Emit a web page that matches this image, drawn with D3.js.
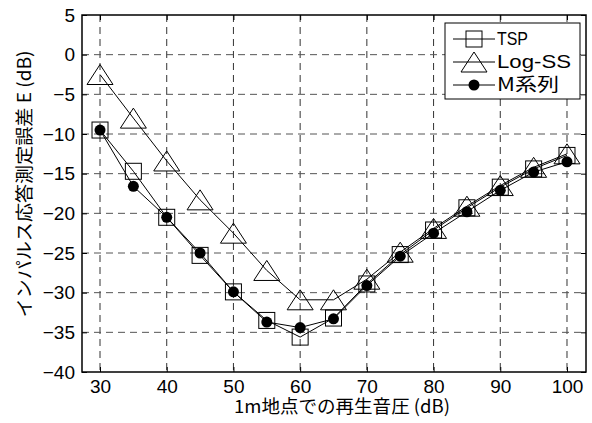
<!DOCTYPE html>
<html>
<head>
<meta charset="utf-8">
<script src="https://cdn.jsdelivr.net/npm/d3@7"></script>
<style>
  body { margin: 0; background: #fff; overflow: hidden; }
  svg { display: block; }
  text { font-family: "Liberation Sans", Arial, sans-serif; fill: #000; }
  .jp { font-family: "Noto Sans CJK JP", sans-serif; }
</style>
</head>
<body>
<div id="chart"></div>
<script>
const levels = [30, 35, 40, 45, 50, 55, 60, 65, 70, 75, 80, 85, 90, 95, 100];
const tspErr = [-9.5, -14.7, -20.5, -25.3, -29.9, -33.5, -35.6, -33.2, -28.9, -25.2, -22.1, -19.3, -16.7, -14.4, -12.7];
const logssErr = [-2.5, -8.0, -13.4, -18.3, -22.5, -27.2, -30.9, -30.9, -28.3, -24.9, -21.9, -19.1, -16.5, -14.2, -12.5];
const mseqErr = [-9.5, -16.6, -20.5, -25.0, -29.9, -33.7, -34.4, -33.3, -29.1, -25.4, -22.5, -19.8, -17.1, -14.8, -13.5];
const xTicks = [30, 40, 50, 60, 70, 80, 90, 100];
const yTicks = [5, 0, -5, -10, -15, -20, -25, -30, -35, -40];
const seriesNames = ["TSP", "Log-SS", "M系列"];

const width = 592, height = 423;
const margin = { top: 15, right: 6, bottom: 51, left: 82 };
const innerWidth = width - margin.left - margin.right;
const innerHeight = height - margin.top - margin.bottom;

const svg = d3.select("#chart").append("svg")
  .attr("width", width)
  .attr("height", height)
  .attr("viewBox", "0 0 " + width + " " + height);

const g = svg.append("g")
  .attr("transform", "translate(" + margin.left + "," + margin.top + ")");

const x = d3.scaleLinear().domain([27.3, 102.85]).range([0, innerWidth]);
const y = d3.scaleLinear().domain([-40, 5]).range([innerHeight, 0]);

// grid
g.selectAll(".vgrid").data(xTicks).enter().append("line")
  .attr("x1", d => x(d)).attr("x2", d => x(d))
  .attr("y1", 0).attr("y2", innerHeight)
  .attr("stroke", "#333").attr("stroke-width", 1)
  .attr("stroke-dasharray", "7,5");
g.selectAll(".hgrid").data(yTicks.filter(d => d > -40 && d < 5)).enter().append("line")
  .attr("y1", d => y(d)).attr("y2", d => y(d))
  .attr("x1", 0).attr("x2", innerWidth)
  .attr("stroke", "#555").attr("stroke-width", 1)
  .attr("stroke-dasharray", "7,5");

// axes
g.append("g")
  .attr("transform", "translate(0," + innerHeight + ")")
  .call(d3.axisBottom(x).tickValues(xTicks).tickSize(-5).tickPadding(8))
  .call(a => a.select(".domain").remove())
  .call(a => a.attr("font-size", 19).selectAll("text").style("font-size", "19px"));
g.append("g")
  .call(d3.axisLeft(y).tickValues(yTicks).tickSize(-5).tickPadding(7).tickFormat(d => d < 0 ? "\u2212" + (-d) : d))
  .call(a => a.select(".domain").remove())
  .call(a => a.attr("font-size", 19).selectAll("text").style("font-size", "19px"));
g.append("g")
  .call(d3.axisTop(x).tickValues(xTicks).tickSize(-5).tickFormat(""))
  .call(a => a.select(".domain").remove());
g.append("g")
  .attr("transform", "translate(" + innerWidth + ",0)")
  .call(d3.axisRight(y).tickValues(yTicks).tickSize(-5).tickFormat(""))
  .call(a => a.select(".domain").remove());

g.append("rect")
  .attr("width", innerWidth).attr("height", innerHeight)
  .attr("fill", "none").attr("stroke", "#000").attr("stroke-width", 1.5);

// axis titles
g.append("text")
  .attr("class", "jp")
  .attr("x", innerWidth / 2 + 8)
  .attr("y", innerHeight + 41)
  .attr("text-anchor", "middle")
  .attr("textLength", 216)
  .attr("lengthAdjust", "spacingAndGlyphs")
  .style("font-size", "18px")
  .text("1m地点での再生音圧 (dB)");
g.append("text")
  .attr("class", "jp")
  .attr("transform", "rotate(-90)")
  .attr("x", -(184 - margin.top))
  .attr("y", -51)
  .attr("text-anchor", "middle")
  .attr("textLength", 267)
  .attr("lengthAdjust", "spacingAndGlyphs")
  .style("font-size", "18px")
  .text("インパルス応答測定誤差 E (dB)");

// series
const line = d3.line().x((d, i) => x(levels[i])).y(d => y(d));
const allSeries = [tspErr, logssErr, mseqErr];
allSeries.forEach(s => {
  g.append("path").datum(s)
    .attr("d", line)
    .attr("fill", "none").attr("stroke", "#000").attr("stroke-width", 1);
});

function drawMarker(sel, kind, cx, cy) {
  if (kind === 0) {
    sel.append("rect")
      .attr("x", cx - 8).attr("y", cy - 8)
      .attr("width", 16).attr("height", 16)
      .attr("fill", "none").attr("stroke", "#000").attr("stroke-width", 1);
  } else if (kind === 1) {
    sel.append("path")
      .attr("d", "M" + cx + "," + (cy - 10) + "L" + (cx + 13) + "," + (cy + 10) + "L" + (cx - 13) + "," + (cy + 10) + "Z")
      .attr("fill", "none").attr("stroke", "#000").attr("stroke-width", 1);
  } else {
    sel.append("circle")
      .attr("cx", cx).attr("cy", cy).attr("r", 5.5)
      .attr("fill", "#000");
  }
}

allSeries.forEach((s, k) => {
  s.forEach((v, i) => drawMarker(g, k, x(levels[i]), y(v)));
});

// legend
const legendWidths = [31, 74, 62];
const legend = svg.append("g").attr("transform", "translate(445,23)");
legend.append("rect")
  .attr("width", 135).attr("height", 76)
  .attr("fill", "#fff").attr("stroke", "#000").attr("stroke-width", 1);
seriesNames.forEach((name, k) => {
  const cy = 16 + k * 23;
  legend.append("line")
    .attr("x1", 8).attr("x2", 50).attr("y1", cy).attr("y2", cy)
    .attr("stroke", "#000").attr("stroke-width", 1);
  drawMarker(legend, k, 29, cy);
  legend.append("text")
    .attr("class", k === 2 ? "jp" : null)
    .attr("x", 52).attr("y", cy + 6)
    .attr("textLength", legendWidths[k])
    .attr("lengthAdjust", "spacingAndGlyphs")
    .style("font-size", "18px")
    .text(name);
});
</script>
</body>
</html>
